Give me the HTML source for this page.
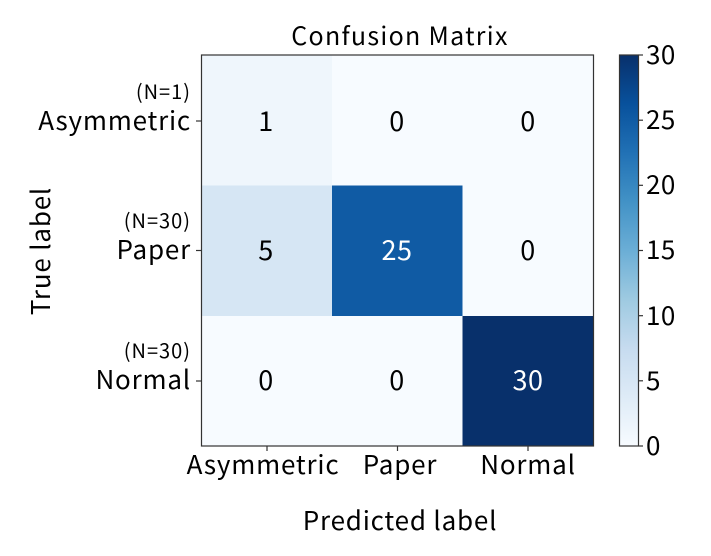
<!DOCTYPE html>
<html><head><meta charset="utf-8"><style>
html,body{margin:0;padding:0;background:#fff;}
svg text{font-family:"Noto Sans CJK KR","Liberation Sans",sans-serif;fill:#000;}
</style></head><body>
<svg width="711" height="551" viewBox="0 0 711 551" xmlns="http://www.w3.org/2000/svg">
<defs>
<linearGradient id="g" x1="0" y1="1" x2="0" y2="0">
<stop offset="0" stop-color="#f7fbff"/><stop offset="0.125" stop-color="#deebf7"/>
<stop offset="0.25" stop-color="#c6dbef"/><stop offset="0.375" stop-color="#9ecae1"/>
<stop offset="0.5" stop-color="#6baed6"/><stop offset="0.625" stop-color="#4292c6"/>
<stop offset="0.75" stop-color="#2171b5"/><stop offset="0.875" stop-color="#08519c"/>
<stop offset="1" stop-color="#08306b"/></linearGradient>
</defs>
<rect x="201.5" y="55" width="131" height="131" fill="#eff6fc"/>
<rect x="332" y="55" width="131" height="131" fill="#f7fbff"/>
<rect x="462.5" y="55" width="131" height="131" fill="#f7fbff"/>
<rect x="201.5" y="185.5" width="131" height="131" fill="#d6e6f4"/>
<rect x="332" y="185.5" width="131" height="131" fill="#105ba4"/>
<rect x="462.5" y="185.5" width="131" height="131" fill="#f7fbff"/>
<rect x="201.5" y="316" width="131" height="130" fill="#f7fbff"/>
<rect x="332" y="316" width="131" height="130" fill="#f7fbff"/>
<rect x="462.5" y="316" width="131" height="130" fill="#08306b"/>
<rect x="201.5" y="55" width="392" height="391" fill="none" stroke="#333" stroke-width="1.2"/>
<g font-size="27" text-anchor="middle" letter-spacing="0.5">
<text x="266" y="131">1</text><text x="397" y="131">0</text><text x="528" y="131">0</text>
<text x="266" y="260">5</text><text x="397" y="260" style="fill:#fff">25</text><text x="528" y="260">0</text>
<text x="266" y="390">0</text><text x="397" y="390">0</text><text x="528" y="390" style="fill:#fff">30</text>
</g>
<text x="400" y="45" font-size="25" letter-spacing="1.3" text-anchor="middle">Confusion Matrix</text>
<g stroke="#333" stroke-width="1.2">
<line x1="196" y1="121" x2="201.5" y2="121"/><line x1="196" y1="250.5" x2="201.5" y2="250.5"/><line x1="196" y1="381" x2="201.5" y2="381"/>
<line x1="267" y1="446" x2="267" y2="451"/><line x1="397.5" y1="446" x2="397.5" y2="451"/><line x1="528" y1="446" x2="528" y2="451"/>
</g>
<g font-size="26" text-anchor="end" letter-spacing="0.8">
<text x="191" y="130">Asymmetric</text><text x="191" y="259">Paper</text><text x="191" y="389">Normal</text>
</g>
<g font-size="20" text-anchor="end" letter-spacing="1">
<text x="191" y="99">(N=1)</text><text x="191" y="228">(N=30)</text><text x="191" y="358">(N=30)</text>
</g>
<g font-size="26" text-anchor="middle" letter-spacing="0.8">
<text x="263" y="474">Asymmetric</text><text x="400" y="474">Paper</text><text x="528" y="474">Normal</text>
</g>
<text x="400" y="530" font-size="26" letter-spacing="0.8" text-anchor="middle">Predicted label</text>
<text transform="translate(50,251) rotate(-90)" font-size="26" letter-spacing="0.8" text-anchor="middle">True label</text>
<rect x="619.5" y="55" width="19" height="391" fill="url(#g)" stroke="#333" stroke-width="1.2"/>
<g stroke="#333" stroke-width="1.2">
<line x1="638.5" y1="446" x2="643" y2="446"/><line x1="638.5" y1="380.8" x2="643" y2="380.8"/>
<line x1="638.5" y1="315.7" x2="643" y2="315.7"/><line x1="638.5" y1="250.5" x2="643" y2="250.5"/>
<line x1="638.5" y1="185.3" x2="643" y2="185.3"/><line x1="638.5" y1="120.2" x2="643" y2="120.2"/>
<line x1="638.5" y1="55" x2="643" y2="55"/>
</g>
<g font-size="26" letter-spacing="0.5">
<text x="646" y="455">0</text><text x="646" y="390">5</text><text x="646" y="325">10</text>
<text x="646" y="259">15</text><text x="646" y="194">20</text><text x="646" y="129">25</text><text x="646" y="64">30</text>
</g>
</svg>
</body></html>
